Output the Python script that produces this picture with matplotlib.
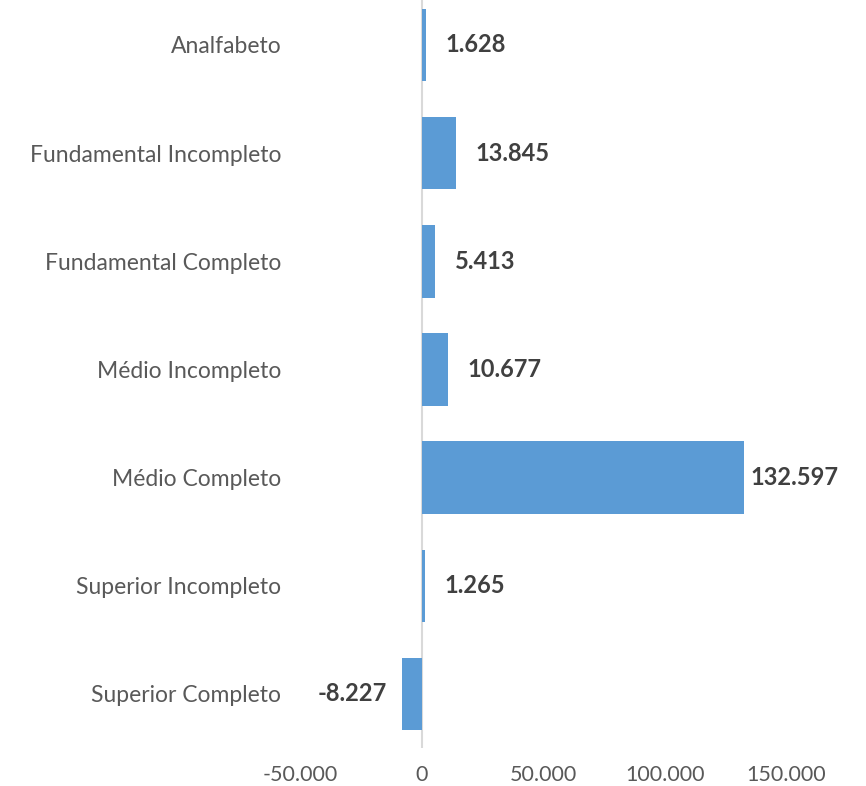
import matplotlib.pyplot as plt
from matplotlib.ticker import FuncFormatter

categories = [
    "Analfabeto",
    "Fundamental Incompleto",
    "Fundamental Completo",
    "Médio Incompleto",
    "Médio Completo",
    "Superior Incompleto",
    "Superior Completo",
]
values = [1628, 13845, 5413, 10677, 132597, 1265, -8227]
xticks = [-50000, 0, 50000, 100000, 150000]

plt.rcParams["font.family"] = ["Lato", "DejaVu Sans"]

fig = plt.figure(figsize=(8.66, 7.86), dpi=100)
ax = fig.add_axes([0.3472, 0.0483, 0.5603, 0.9517])

y = list(range(len(categories)))
ax.barh(y, values, height=0.67, color="#5B9BD5", zorder=2)
ax.axvline(0, color="#D9D9D9", linewidth=1.5, zorder=1)

ax.set_ylim(6.5, -0.416)
ax.set_xlim(-50000, 150000)


def fmt(v):
    return f"{v:,.0f}".replace(",", ".")


for yi, v in zip(y, values):
    if v >= 0:
        # labels near the right edge are pushed back inside, like Excel does
        off = 5 if v > 100000 else 14
        ax.annotate(fmt(v), (v, yi), xytext=(off, 0), textcoords="offset points",
                    ha="left", va="center", fontsize=17, fontweight="bold",
                    color="#404040", annotation_clip=False)
    else:
        ax.annotate(fmt(v), (v, yi), xytext=(-11, 0), textcoords="offset points",
                    ha="right", va="center", fontsize=17, fontweight="bold",
                    color="#404040", annotation_clip=False)

ax.set_yticks(y)
ax.set_yticklabels(categories)
ax.set_xticks(xticks)
ax.xaxis.set_major_formatter(FuncFormatter(lambda v, p: fmt(v)))
ax.tick_params(axis="y", length=0, pad=14, labelsize=16.5, labelcolor="#595959")
ax.tick_params(axis="x", length=0, pad=12, labelsize=15.5, labelcolor="#595959")
for s in ax.spines.values():
    s.set_visible(False)

fig.savefig("out.png", dpi=100)
